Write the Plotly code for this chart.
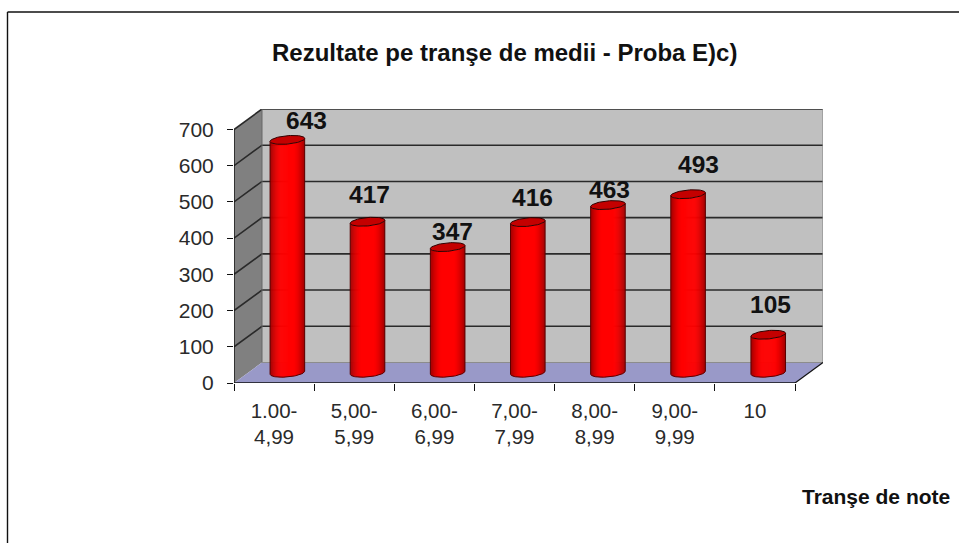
import numpy as np
import plotly.graph_objects as go

# ---- data ----
categories = ["1.00-<br>4,99", "5,00-<br>5,99", "6,00-<br>6,99", "7,00-<br>7,99",
              "8,00-<br>8,99", "9,00-<br>9,99", "10"]
values = [643, 417, 347, 416, 463, 493, 105]
y_ticks = [0, 100, 200, 300, 400, 500, 600, 700]
title_text = "Rezultate pe tranşe de medii - Proba E)c)"
axis_note = "Tranşe de note"
# label nudges in pixels, as placed in the original chart
label_dx = [19, 2, 5, 5, 2, 10, 2]
label_dy = [19, 27, 16, 25, 16, 30, 30]

# ---- geometry (pixels) ----
W, H = 959, 543
X0, X1, Y0, YTOP = 234, 795, 383, 129.5
DX, DY = 28, 20.5
PPC = (X1 - X0) / len(values)
PPV = (Y0 - YTOP) / 700
xr = [-0.5, len(values) - 0.5 + DX / PPC]
yr = [0, 700 + DY / PPV]
ddx, ddy = DX / PPC, DY / PPV
xs = list(range(len(values)))

fig = go.Figure()


def poly(x, y, fill=None, line=None, lw=1):
    fig.add_trace(go.Scatter(
        x=x, y=y, mode="lines", hoverinfo="skip", showlegend=False,
        fill="toself" if fill else "none", fillcolor=fill,
        line=dict(color=line or "rgba(0,0,0,0)", width=lw if line else 0)))


xa, xb = xr
# walls
poly([xa + ddx, xb, xb, xa + ddx, xa + ddx], [0 + ddy, ddy, 700 + ddy, 700 + ddy, ddy], "#C0C0C0")
poly([xa, xa + ddx, xa + ddx, xa, xa], [0, ddy, 700 + ddy, 700, 0], "#808080")
poly([xa, xb - ddx, xb, xa + ddx, xa], [0, 0, ddy, ddy, 0], "#9999C8")
# gridlines
for t in y_ticks[1:]:
    poly([xa, xa + ddx, xb], [t, t + ddy, t + ddy], None, "#2a2a2a", 1.6)
poly([xb, xb], [ddy, 700 + ddy], None, "#8c8c8c", 1.2)
poly([xa + ddx, xa + ddx], [ddy, 700 + ddy], None, "#666666", 1)
poly([xa + ddx, xb], [ddy, ddy], None, "#8c8c8c", 1)
# front axis lines
poly([xa, xa], [0, 700], None, "#111111", 1.4)
poly([xa, xb - ddx], [0, 0], None, "#111111", 1.6)
poly([xb - ddx, xb], [0, ddy], None, "#111111", 1.2)

# cylinders
A, B, TILT = 17.3, 4.2, 1.5
CSX = 13.3 / PPC
N = 34
edges = np.linspace(-1, 1, N + 1)


def shade(t):
    d = 0 if abs(t) < 0.35 else (abs(t) - 0.35) / 0.65
    r = int(255 - 95 * d ** 1.6)
    return f"rgb({r},0,0)"


def low(t):
    return (-B * np.sqrt(max(0, 1 - t * t)) + TILT * t) / PPV


for j in range(N):
    t0, t1 = edges[j], edges[j + 1]
    tc = (t0 + t1) / 2
    px, py = [], []
    ov = 0.6 / A if j < N - 1 else 0
    t1o = min(1, t1 + ov)
    for i, v in zip(xs, values):
        cx = i + CSX
        a = A / PPC
        by = ddy / 2
        x0, x1 = cx + a * t0, cx + a * t1o
        px += [x0, x1, x1, x0, x0, None]
        py += [by + low(t0), by + low(t1o), by + v + low(t1o), by + v + low(t0), by + low(t0), None]
    poly(px, py, shade(tc))

th = np.linspace(0, 2 * np.pi, 73)
tb = np.linspace(-1, 1, 41)
for i, v in zip(xs, values):
    cx = i + CSX
    a = A / PPC
    by = ddy / 2
    # outline: sides and lower arc
    ox = [cx - a] + list(cx + a * tb) + [cx + a]
    oy = [by + v - TILT / PPV] + list(by + (-B * np.sqrt(1 - tb ** 2) + TILT * tb) / PPV) + [by + v + TILT / PPV]
    poly(ox, oy, None, "#5a0000", 1)
    # top ellipse
    ex = cx + a * np.cos(th)
    ey = by + v + (B * np.sin(th) + TILT * np.cos(th)) / PPV
    poly(list(ex), list(ey), "#C40000", "#300000", 1)

# value labels
for i, v, dx, dy in zip(xs, values, label_dx, label_dy):
    fig.add_annotation(x=i + CSX, y=ddy / 2 + v, text=f"<b>{v}</b>", showarrow=False,
                       xshift=dx, yshift=dy, xanchor="center", yanchor="middle",
                       font=dict(family="Liberation Sans", size=24.5, color="#111111"))

fig.add_annotation(xref="paper", yref="paper", x=504 / W, y=1 - 53 / H, text=f"<b>{title_text}</b>",
                   showarrow=False, xanchor="center", yanchor="middle",
                   font=dict(family="Liberation Sans", size=24, color="#111111"))
fig.add_annotation(xref="paper", yref="paper", x=876 / W, y=1 - 496 / H, text=f"<b>{axis_note}</b>",
                   showarrow=False, xanchor="center", yanchor="middle",
                   font=dict(family="Liberation Sans", size=21, color="#111111"))

# frame of the picture
fig.add_shape(type="line", xref="paper", yref="paper", x0=7.5 / W, x1=1, y0=1 - 12 / H, y1=1 - 12 / H,
              line=dict(color="#111111", width=1.4))
fig.add_shape(type="line", xref="paper", yref="paper", x0=7.5 / W, x1=7.5 / W, y0=0, y1=1 - 12 / H,
              line=dict(color="#111111", width=1.4))

fig.update_layout(
    width=W, height=H, margin=dict(l=0, r=0, t=0, b=0, autoexpand=False),
    paper_bgcolor="white", plot_bgcolor="rgba(0,0,0,0)", showlegend=False,
    xaxis=dict(domain=[X0 / W, (X1 + DX) / W], range=xr, tickmode="array", tickvals=xs, ticktext=categories,
               showgrid=False, zeroline=False, showline=False, ticks="", ticklen=0, automargin=False,
               ticklabelstandoff=13,
               tickfont=dict(family="Liberation Sans", size=20.5, color="#2a2a2a"),
               minor=dict(tickmode="array", tickvals=[i - 0.5 for i in range(len(values) + 1)],
                          ticks="outside", ticklen=7, tickwidth=1.4, tickcolor="#111111", showgrid=False)),
    yaxis=dict(domain=[1 - Y0 / H, 1 - (YTOP - DY) / H], range=yr, tickmode="array", tickvals=y_ticks,
               showgrid=False, zeroline=False, showline=False, ticks="outside", ticklen=6, tickwidth=1.4,
               tickcolor="#111111", ticklabelstandoff=9, automargin=False,
               tickfont=dict(family="Liberation Sans", size=21, color="#2a2a2a")),
)

fig.write_html("out.html", config={"displayModeBar": False},
               post_script="document.body.style.margin='0';")
